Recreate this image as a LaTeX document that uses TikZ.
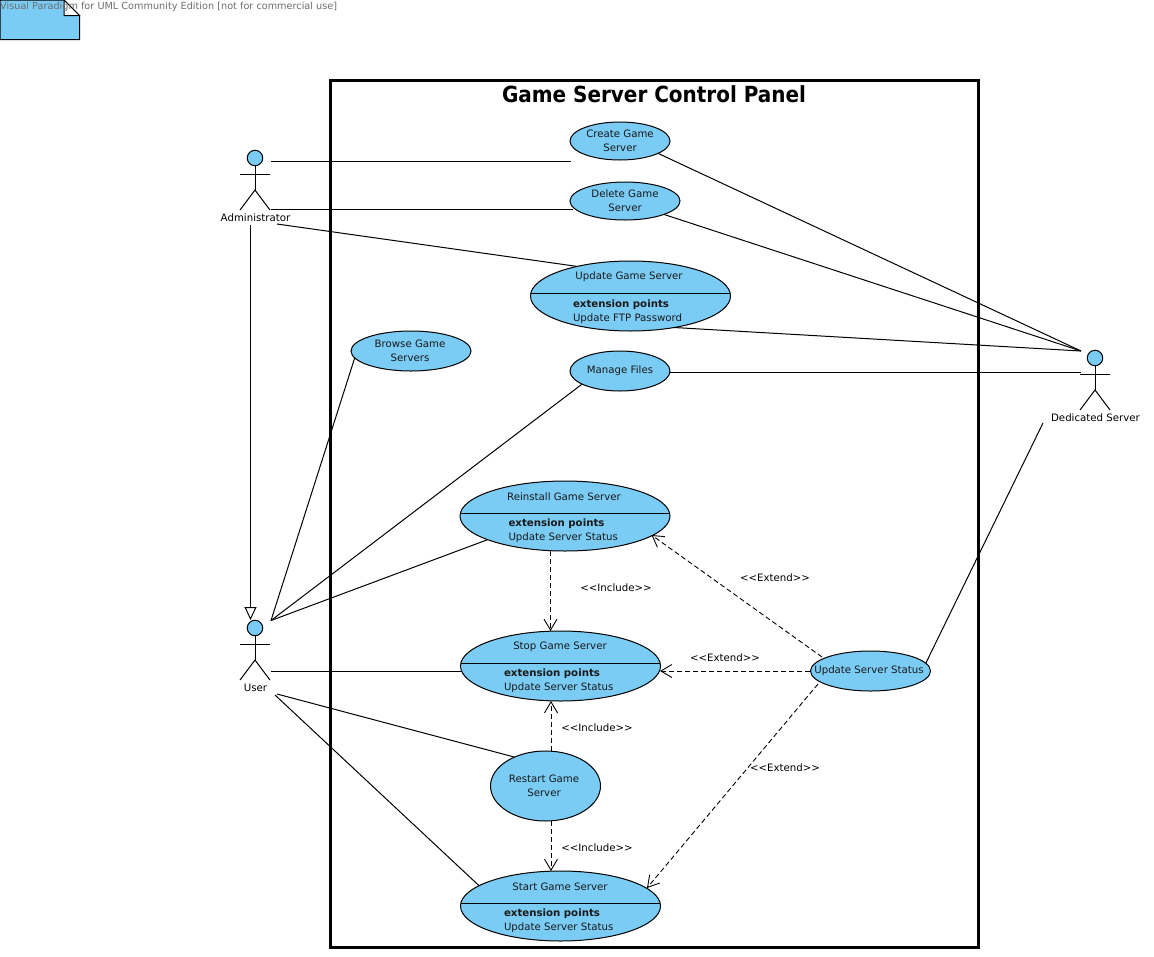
\documentclass[tikz,border=0pt]{standalone}
\usepackage{fontspec}
\setmainfont[Ligatures=NoRequired]{DejaVu Sans}
\newfontfamily\titlefont{DejaVu Sans Condensed}
\usetikzlibrary{arrows.meta,shapes.geometric}
\definecolor{ucblue}{HTML}{7ACCF5}
\definecolor{wmgray}{HTML}{6E6E6E}
\tikzset{
  x=1pt,y=-1pt,
  uc/.style={draw=black,fill=ucblue,ellipse,line width=1pt,inner sep=0pt,outer sep=0pt},
  txt/.style={inner sep=0pt,outer sep=0pt,font=\fontsize{10.2}{14}\selectfont,align=center,text=black!90},
  lefttxt/.style={txt,anchor=west,align=left},
  boldtxt/.style={lefttxt,font=\fontsize{10.2}{14}\selectfont\bfseries},
  assoc/.style={draw=black,line width=1pt},
  dep/.style={draw=black,line width=0.9pt,dash pattern=on 5pt off 3pt,-{Straight Barb[length=11pt,width=13pt,line width=0.9pt]}},
  gen/.style={draw=black,line width=1pt,-{Triangle[open,fill=white,length=13pt,width=12pt,line width=1pt]}},
  stereo/.style={txt,text=black},
  divider/.style={draw=black,line width=1pt},
  head/.style={circle,draw=black,fill=ucblue,line width=1pt,minimum size=15.5pt,inner sep=0pt,outer sep=0pt},
  limb/.style={draw=black,line width=1pt}
}
% name, x, head y, label
\newcommand{\umlactor}[4]{%
  \begin{scope}[shift={(#2,#3)}]
    \node[head] (#1) at (0,0) {};
    \coordinate (#1hip) at (0,32);
    \draw[limb] (#1.south) -- (#1hip);
    \draw[limb] (-15,16) -- (15,16);
    \draw[limb] (-15,52) -- (#1hip) -- (15,52);
    \node[txt,text=black] (#1label) at (0.5,60) {#4};
  \end{scope}}
\begin{document}
\begin{tikzpicture}
\useasboundingbox (0,0) rectangle (1154,956);
\fill[white] (0,0) rectangle (1154,956);

% note icon + watermark
\draw[draw=black,fill=ucblue,line width=1pt] (0,0) -- (64,0) -- (79.5,15.5) -- (79.5,39.5) -- (0,39.5) -- cycle;
\draw[draw=black,fill=white,line width=1pt] (64,0) -- (79.5,15.5) -- (64,15.5) -- cycle;
\node[inner sep=0pt,anchor=west,font=\fontsize{9.7}{12}\selectfont,text=wmgray] (wm) at (0,6.5) {Visual Paradigm for UML Community Edition [not for commercial use]};

% system boundary
\node[draw=black,line width=3pt,minimum width=648pt,minimum height=867pt,inner sep=0pt,outer sep=0pt] (system) at (654.5,514) {};
\node[inner sep=0pt,font=\fontsize{22.2}{26}\selectfont\titlefont\bfseries,text=black] (title) at (654,94) {Game Server Control Panel};

% actor ports
\coordinate (adminA) at (271,161);
\coordinate (adminB) at (271,209);
\coordinate (adminC) at (277,224);
\coordinate (adminD) at (250.5,225);
\coordinate (userTip) at (250.5,620);
\coordinate (userA) at (271,620.5);
\coordinate (userB) at (271,671);
\coordinate (userC) at (277,694);
\coordinate (userD) at (275,695);
\coordinate (dedA) at (1081,351);
\coordinate (dedB) at (1081,372);
\coordinate (dedC) at (1043,423);
\coordinate (createIn) at (571,161);
\coordinate (deleteIn) at (573,209);
\coordinate (stopIn) at (462,671);
\coordinate (manageOut) at (670,372);
\coordinate (updateOut) at (674,327.5);

% compartment divider ends
\coordinate (ugL) at (531,293);   \coordinate (ugR) at (730,293);
\coordinate (riL) at (460.5,513); \coordinate (riR) at (669.5,513);
\coordinate (spL) at (461,663);   \coordinate (spR) at (660,663);
\coordinate (stL) at (461,903);   \coordinate (stR) at (660,903);

% use cases
\node[uc,minimum width=100pt,minimum height=38pt] (create) at (620,141) {};
\node[uc,minimum width=110pt,minimum height=38pt] (delete) at (625,201) {};
\node[uc,minimum width=200pt,minimum height=70pt] (updategs) at (630.5,296) {};
\node[uc,minimum width=120pt,minimum height=40pt] (browse) at (411,351) {};
\node[uc,minimum width=100pt,minimum height=40pt] (manage) at (620,371) {};
\node[uc,minimum width=210pt,minimum height=70pt] (reinstall) at (565,516) {};
\node[uc,minimum width=200pt,minimum height=70pt] (stop) at (560.5,666) {};
\node[uc,minimum width=120pt,minimum height=40pt] (status) at (870.5,671) {};
\node[uc,minimum width=110pt,minimum height=70pt] (restart) at (545.5,786) {};
\node[uc,minimum width=200pt,minimum height=70pt] (start) at (560.5,906) {};

% compartments
\draw[divider] (ugL) -- (ugR);
\draw[divider] (riL) -- (riR);
\draw[divider] (spL) -- (spR);
\draw[divider] (stL) -- (stR);

% labels
\node[txt] (createT) at (620,141) {Create Game\\Server};
\node[txt] (deleteT) at (625,201) {Delete Game\\Server};
\node[txt] (browseT) at (410,351) {Browse Game\\Servers};
\node[txt] (manageT) at (620,371) {Manage Files};
\node[txt] (statusT) at (869,671) {Update Server Status};
\node[txt] (restartT) at (544,786) {Restart Game\\Server};
\node[txt] (updategsT) at (629,277) {Update Game Server};
\node[boldtxt] (updategsE) at (573,305) {extension points};
\node[lefttxt] (updategsP) at (573,319) {Update FTP Password};
\node[txt] (reinstallT) at (564,497) {Reinstall Game Server};
\node[boldtxt] (reinstallE) at (508.5,524) {extension points};
\node[lefttxt] (reinstallP) at (508.5,538) {Update Server Status};
\node[txt] (stopT) at (560,647) {Stop Game Server};
\node[boldtxt] (stopE) at (504,674) {extension points};
\node[lefttxt] (stopP) at (504,688) {Update Server Status};
\node[txt] (startT) at (560,887) {Start Game Server};
\node[boldtxt] (startE) at (504,914) {extension points};
\node[lefttxt] (startP) at (504,928) {Update Server Status};

% actors
\umlactor{admin}{255}{158}{Administrator}
\umlactor{user}{255}{628}{User}
\umlactor{ded}{1095}{358}{Dedicated Server}

% associations
\draw[assoc] (adminA) -- (createIn);
\draw[assoc] (adminB) -- (deleteIn);
\draw[assoc] (adminC) -- (updategs.151.7);
\draw[assoc] (create.342) -- (dedA);
\draw[assoc] (delete.341) -- (dedA);
\draw[assoc] (updateOut) -- (dedA);
\draw[assoc] (manageOut) -- (dedB);
\draw[assoc] (status.8.8) -- (dedC);
\draw[assoc] (userA) -- (browse.187.3);
\draw[assoc] (userA) -- (manage.199);
\draw[assoc] (userA) -- (reinstall.197.6);
\draw[assoc] (userB) -- (stopIn);
\draw[assoc] (userC) -- (restart.137.6);
\draw[assoc] (userD) -- (start.166.5);
\draw[gen] (adminD) -- (userTip);

% dependencies
\coordinate (depA1) at (550.5,551);  \coordinate (depA2) at (550.5,631);
\coordinate (depB1) at (551,751);    \coordinate (depB2) at (551,701);
\coordinate (depC1) at (551,821);    \coordinate (depC2) at (551,871);
\coordinate (depD1) at (822,657);    \coordinate (depD2) at (651.5,535);
\coordinate (depE1) at (810,671);    \coordinate (depE2) at (660,671);
\coordinate (depF1) at (818,684);    \coordinate (depF2) at (647,888);
\draw[dep] (depA1) -- (depA2);
\draw[dep] (depB1) -- (depB2);
\draw[dep] (depC1) -- (depC2);
\draw[dep] (depD1) -- (depD2);
\draw[dep] (depE1) -- (depE2);
\draw[dep] (depF1) -- (depF2);

\node[stereo] (inc1) at (616,588) {<{}<Include>{}>};
\node[stereo] (inc2) at (597,728) {<{}<Include>{}>};
\node[stereo] (inc3) at (597,848) {<{}<Include>{}>};
\node[stereo] (ext1) at (775,578) {<{}<Extend>{}>};
\node[stereo] (ext2) at (725,658) {<{}<Extend>{}>};
\node[stereo] (ext3) at (785,768) {<{}<Extend>{}>};
\end{tikzpicture}
\end{document}
